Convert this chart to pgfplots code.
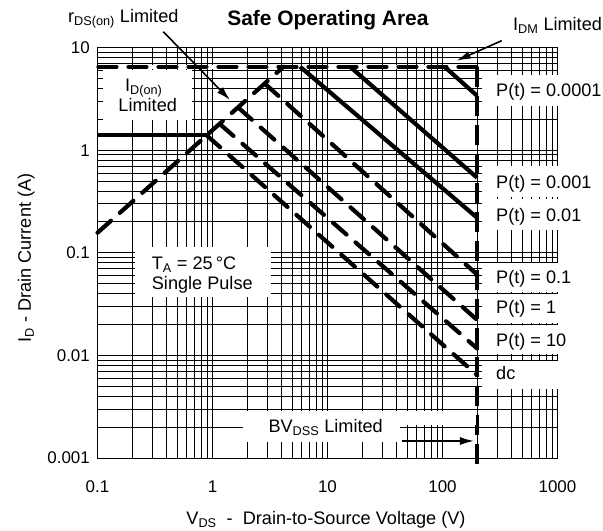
\documentclass[border=0pt]{standalone}
\usepackage{fontspec}
\setmainfont{Liberation Sans}
\usepackage{pgfplots}
\pgfplotsset{compat=1.18}
\usetikzlibrary{arrows.meta}
\newcommand{\lbl}{\fontsize{18.2}{20}\selectfont}
\begin{document}
\begin{tikzpicture}
\useasboundingbox (-97.5bp,-73bp) rectangle (505.5bp,458bp);
\begin{axis}[
  at={(0,0)}, anchor=south west,
  scale only axis, width=460bp, height=410.3bp,
  xmode=log, ymode=log,
  xmin=0.1, xmax=1000, ymin=0.001, ymax=10,
  xtick={0.1,1,10,100,1000}, xticklabels={0.1,1,10,100,1000},
  ytick={0.001,0.01,0.1,1,10}, yticklabels={0.001,0.01,0.1,1,10},
  minor xtick={0.2,0.3,0.4,0.5,0.6,0.7,0.8,0.9,2,3,4,5,6,7,8,9,20,30,40,50,60,70,80,90,200,300,400,500,600,700,800,900},
  minor ytick={0.002,0.003,0.004,0.005,0.006,0.007,0.008,0.009,0.02,0.03,0.04,0.05,0.06,0.07,0.08,0.09,0.2,0.3,0.4,0.5,0.6,0.7,0.8,0.9,2,3,4,5,6,7,8,9},
  grid=both,
  major grid style={black, line width=1bp},
  minor grid style={black, line width=1bp},
  major tick length=0pt, minor tick length=0pt,
  axis line style={black, line width=1bp},
  tick label style={font=\fontsize{17}{17}\selectfont, inner sep=0pt},
  xticklabel style={anchor=base, yshift=-34.4bp},
  yticklabel style={anchor=east, xshift=-7.5bp},
  xlabel={V\textsubscript{DS}\ \ -\ \ Drain-to-Source Voltage (V)},
  ylabel={I\textsubscript{D} - Drain Current (A)},
  every axis x label/.style={at={(axis description cs:0.4967,-0.1621)}, anchor=base, font=\lbl},
  every axis y label/.style={at={(axis description cs:-0.1446,0.4875)}, rotate=90, anchor=base, font=\lbl},
  title={Safe Operating Area},
  title style={at={(axis description cs:0.501,1.0395)}, anchor=base, font=\bfseries\fontsize{21}{21}\selectfont},
  clip=false,
  sl/.style={black, solid, mark=none, line width=4.2bp},
  dsh/.style={black, mark=none, line width=4.2bp, dash pattern=on 18bp off 12bp, line cap=round},
]
% I_DM limit (white underlay + dashed)
\addplot[white, solid, mark=none, line width=4.2bp] coordinates {(0.102,6.53) (200,6.53)};
\addplot[dsh] coordinates {(0.102,6.53) (200,6.53)};
% BV_DSS limit
\addplot[black, mark=none, dash pattern=on 20bp off 9bp, line width=4.6bp] coordinates {(200,6.53) (200,0.00085)};
% I_D(on) limit
\addplot[sl] coordinates {(0.1,1.40) (0.89,1.40)};
% r_DS(on) limit
\addplot[dsh] coordinates {(0.1,0.157) (4.15,6.53)};
% P(t) = 0.0001
\addplot[sl] coordinates {(104,6.53) (200,3.40)};
% P(t) = 0.001
\addplot[sl] coordinates {(15.7,6.53) (200,0.54)};
% P(t) = 0.01
\addplot[sl] coordinates {(5.77,6.53) (200,0.22)};
% P(t) = 0.1
\addplot[dsh] coordinates {(2.86,4.45) (200,0.0614)};
% P(t) = 1
\addplot[dsh] coordinates {(1.68,2.60) (200,0.0222)};
% P(t) = 10
\addplot[dsh] coordinates {(1.16,1.80) (200,0.0117)};
% dc
\addplot[dsh] coordinates {(0.89,1.40) (200,0.00643)};
\end{axis}
\begin{scope}[x=1bp,y=-1bp,shift={(-97.5bp,458bp)}]
  % label boxes
  \fill[white] (103,70) rectangle (192,120);
  \fill[white] (135,247) rectangle (271,297);
  \fill[white] (243,411) rectangle (400,442);
  \fill[white] (400,411) rectangle (476,425);
  \fill[white] (482,75) rectangle (603,106);
  \fill[white] (482,166) rectangle (603,197);
  \fill[white] (482,199) rectangle (603,230);
  \fill[white] (482,263) rectangle (603,292);
  \fill[white] (482,294) rectangle (603,323);
  \fill[white] (482,325) rectangle (603,354);
  \fill[white] (482,361) rectangle (603,389);
  \begin{scope}[every node/.style={font=\lbl, inner sep=0pt}]
    \node[anchor=base west] at (125,91.7) {I\textsubscript{D(on)}};
    \node[anchor=base west] at (118.3,111.7) {Limited};
    \node[anchor=base west] at (151.7,269.3) {T\textsubscript{A} = 25\,°C};
    \node[anchor=base west] at (151.7,289.3) {Single Pulse};
    \node[anchor=base east] at (383,432.7) {BV\textsubscript{DSS} Limited};
    \node[anchor=base west] at (68,22.7) {r\textsubscript{DS(on)} Limited};
    \node[anchor=base west] at (513,30.7) {I\textsubscript{DM} Limited};
    \node[anchor=base west] at (496,96.7) {P(t) = 0.0001};
    \node[anchor=base west] at (496,188.5) {P(t) = 0.001};
    \node[anchor=base west] at (496,221.7) {P(t) = 0.01};
    \node[anchor=base west] at (496,284) {P(t) = 0.1};
    \node[anchor=base west] at (496,314) {P(t) = 1};
    \node[anchor=base west] at (496,346.7) {P(t) = 10};
    \node[anchor=base west] at (496,379.3) {dc};
  \end{scope}
  % arrows
  \draw[line width=1.6bp, -{Latex[length=14bp,width=8bp]}] (163.3,31.7) -- (230,100);
  \draw[line width=1.6bp, -{Latex[length=14bp,width=8bp]}] (501.7,40.7) -- (456.7,60.7);
  \draw[line width=1.6bp, -{Latex[length=14bp,width=8bp]}] (401.7,441) -- (474,441);
\end{scope}
\end{tikzpicture}
\end{document}
